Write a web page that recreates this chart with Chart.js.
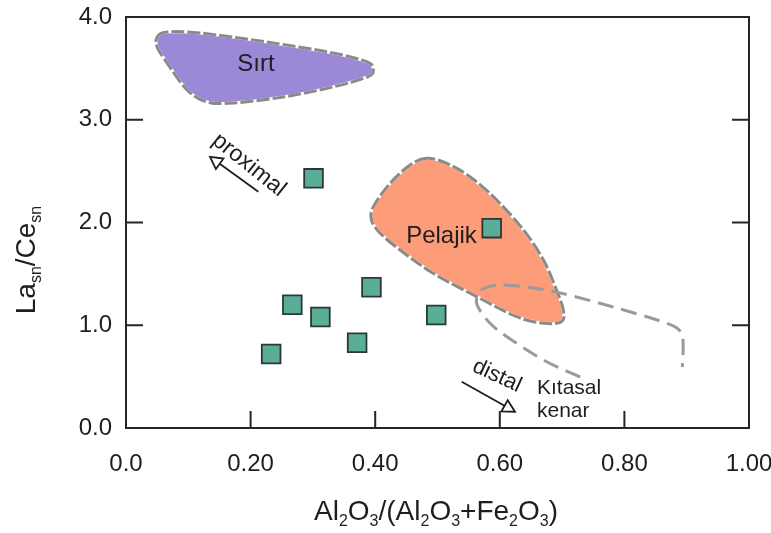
<!DOCTYPE html>
<html><head><meta charset="utf-8">
<script src="https://cdn.jsdelivr.net/npm/chart.js@4/dist/chart.umd.min.js"></script>
<style>html,body{margin:0;padding:0;background:#fff}#wrap{width:771px;height:533px}</style>
</head><body><div id="wrap"><canvas id="c" width="771" height="533"></canvas></div>
<script>
// ---- data ----
const sampleX = [0.233, 0.267, 0.312, 0.394, 0.371, 0.498, 0.301, 0.587];
const sampleY = [0.72, 1.20, 1.08, 1.37, 0.83, 1.10, 2.43, 1.945];

const xTickLabels = ['0.0', '0.20', '0.40', '0.60', '0.80', '1.00'];
const yTickLabels = ['0.0', '1.0', '2.0', '3.0', '4.0'];

// field outlines (data coordinates)
const sirtX = [0.050, 0.066, 0.119, 0.226, 0.332, 0.387, 0.397, 0.387, 0.332, 0.252, 0.172, 0.130, 0.098, 0.066, 0.050];
const sirtY = [3.805, 3.854, 3.844, 3.757, 3.650, 3.562, 3.484, 3.416, 3.319, 3.221, 3.163, 3.173, 3.290, 3.552, 3.708];

const pelajikX = [0.483, 0.456, 0.424, 0.397, 0.394, 0.408, 0.440, 0.493, 0.563, 0.627, 0.670, 0.699, 0.702, 0.691, 0.670, 0.638, 0.595, 0.552, 0.515];
const pelajikY = [2.625, 2.560, 2.382, 2.154, 2.024, 1.895, 1.733, 1.506, 1.278, 1.083, 1.019, 1.035, 1.148, 1.343, 1.635, 1.927, 2.219, 2.446, 2.576];

const kitasalX = [0.729, 0.673, 0.612, 0.584, 0.565, 0.563, 0.573, 0.600, 0.653, 0.697, 0.782, 0.862, 0.886, 0.894, 0.893];
const kitasalY = [0.496, 0.652, 0.886, 1.022, 1.178, 1.275, 1.353, 1.392, 1.363, 1.314, 1.178, 1.032, 0.964, 0.856, 0.594];

// labels & arrows (data coordinates)
const labelTexts = ['Sırt', 'Pelajik', 'proximal', 'distal', 'Kıtasal', 'kenar'];
const labelX = [0.2087, 0.5064, 0.1974, 0.5955, 0.6597, 0.6597];
const labelY = [3.543, 1.862, 2.560, 0.506, 0.389, 0.165];
const arrowFromX = [0.2124, 0.5389];
const arrowFromY = [2.300, 0.4506];
const arrowToX = [0.1348, 0.6244];
const arrowToY = [2.640, 0.1586];

const FONT = "'Liberation Sans', Arial, Helvetica, sans-serif";
const INK = '#1e1e1e';

function P(chart, x, y) {
  return [chart.scales.x.getPixelForValue(x), chart.scales.y.getPixelForValue(y)];
}
function smoothPath(ctx, pts, closed) {
  const n = pts.length;
  ctx.moveTo(pts[0][0], pts[0][1]);
  const segs = closed ? n : n - 1;
  const t = 1 / 6;
  for (let i = 0; i < segs; i++) {
    const p0 = pts[closed ? (i - 1 + n) % n : Math.max(i - 1, 0)];
    const p1 = pts[i];
    const p2 = pts[(i + 1) % n];
    const p3 = pts[closed ? (i + 2) % n : Math.min(i + 2, n - 1)];
    ctx.bezierCurveTo(p1[0] + (p2[0] - p0[0]) * t, p1[1] + (p2[1] - p0[1]) * t,
                      p2[0] - (p3[0] - p1[0]) * t, p2[1] - (p3[1] - p1[1]) * t,
                      p2[0], p2[1]);
  }
  if (closed) ctx.closePath();
}
function drawRegion(chart, xs, ys, fill) {
  const ctx = chart.ctx;
  const pts = xs.map((x, i) => P(chart, x, ys[i]));
  ctx.save();
  ctx.beginPath(); smoothPath(ctx, pts, true);
  ctx.fillStyle = fill; ctx.fill();
  ctx.lineWidth = 3; ctx.strokeStyle = '#ffffff'; ctx.setLineDash([]); ctx.stroke();
  ctx.strokeStyle = '#8a8a8a'; ctx.setLineDash([13, 3]); ctx.stroke();
  ctx.restore();
}
function drawArrow(ctx, a, b) {
  const ang = Math.atan2(b[1] - a[1], b[0] - a[0]);
  const L = 12, W = 6.5;
  const bx = b[0] - L * Math.cos(ang), by = b[1] - L * Math.sin(ang);
  ctx.save();
  ctx.strokeStyle = INK; ctx.lineWidth = 1.8;
  ctx.beginPath(); ctx.moveTo(a[0], a[1]); ctx.lineTo(bx, by); ctx.stroke();
  ctx.beginPath();
  ctx.moveTo(b[0], b[1]);
  ctx.lineTo(bx + W * Math.sin(ang), by - W * Math.cos(ang));
  ctx.lineTo(bx - W * Math.sin(ang), by + W * Math.cos(ang));
  ctx.closePath();
  ctx.fillStyle = '#fff'; ctx.fill(); ctx.stroke();
  ctx.restore();
}
function drawSubText(ctx, parts, x, y, main, sub, off) {
  let w = 0;
  parts.forEach(p => { ctx.font = (p[1] ? sub : main) + 'px ' + FONT; w += ctx.measureText(p[0]).width; });
  let cx = x - w / 2;
  ctx.textAlign = 'left'; ctx.textBaseline = 'alphabetic';
  parts.forEach(p => {
    ctx.font = (p[1] ? sub : main) + 'px ' + FONT;
    ctx.fillText(p[0], cx, y + (p[1] ? off : 0));
    cx += ctx.measureText(p[0]).width;
  });
}

const decor = {
  id: 'decor',
  beforeDatasetsDraw(chart) {
    const ctx = chart.ctx;
    drawRegion(chart, sirtX, sirtY, '#9b89d8');
    drawRegion(chart, pelajikX, pelajikY, '#fc9c79');
    // continental margin open curve
    const kp = kitasalX.map((x, i) => P(chart, x, kitasalY[i]));
    ctx.save();
    ctx.beginPath(); smoothPath(ctx, kp, false);
    ctx.lineWidth = 3; ctx.strokeStyle = '#9a9a9a'; ctx.setLineDash([16, 8]); ctx.stroke();
    ctx.restore();
    // arrows
    for (let i = 0; i < arrowFromX.length; i++) {
      drawArrow(ctx, P(chart, arrowFromX[i], arrowFromY[i]), P(chart, arrowToX[i], arrowToY[i]));
    }
    // labels
    const sizes = [24, 24, 23, 22, 21, 21];
    const rot = [0, 0, 38.7, 25, 0, 0];
    const align = ['center', 'center', 'center', 'center', 'left', 'left'];
    ctx.save();
    ctx.fillStyle = INK;
    labelTexts.forEach((t, i) => {
      const p = P(chart, labelX[i], labelY[i]);
      ctx.save();
      ctx.translate(p[0], p[1]);
      ctx.rotate(rot[i] * Math.PI / 180);
      ctx.font = sizes[i] + 'px ' + FONT;
      ctx.textAlign = align[i]; ctx.textBaseline = 'middle';
      ctx.fillText(t, 0, 0);
      ctx.restore();
    });
    ctx.restore();
  },
  afterDraw(chart) {
    const ctx = chart.ctx, a = chart.chartArea;
    const xs = chart.scales.x, ys = chart.scales.y;
    ctx.save();
    ctx.strokeStyle = '#262626'; ctx.lineWidth = 2; ctx.setLineDash([]);
    ctx.strokeRect(a.left, a.top, a.right - a.left, a.bottom - a.top);
    const TL = 17;
    ctx.beginPath();
    [1, 2, 3].forEach(v => {
      const y = ys.getPixelForValue(v);
      ctx.moveTo(a.left, y); ctx.lineTo(a.left + TL, y);
      ctx.moveTo(a.right, y); ctx.lineTo(a.right - TL, y);
    });
    [0.2, 0.4, 0.6, 0.8].forEach(v => {
      const x = xs.getPixelForValue(v);
      ctx.moveTo(x, a.bottom); ctx.lineTo(x, a.bottom - TL);
    });
    ctx.stroke();
    // axis titles
    ctx.fillStyle = INK;
    drawSubText(ctx, [['Al',0],['2',1],['O',0],['3',1],['/(Al',0],['2',1],['O',0],['3',1],['+Fe',0],['2',1],['O',0],['3',1],[')',0]],
      436, 520, 28, 16, 6);
    ctx.save();
    ctx.translate(35, 260);
    ctx.rotate(-Math.PI / 2);
    drawSubText(ctx, [['La',0],['sn',1],['/Ce',0],['sn',1]], 0, 0, 28, 16, 6);
    ctx.restore();
    ctx.restore();
  }
};

new Chart(document.getElementById('c'), {
  type: 'scatter',
  data: {
    datasets: [{
      data: sampleX.map((x, i) => ({ x: x, y: sampleY[i] })),
      pointStyle: 'rect',
      pointRadius: 13.2,
      pointHoverRadius: 13.2,
      backgroundColor: '#5aae98',
      borderColor: '#2c3835',
      borderWidth: 1.8
    }]
  },
  options: {
    responsive: false,
    animation: false,
    events: [],
    layout: { padding: { top: 17, right: 22, left: 0, bottom: 0 } },
    plugins: { legend: { display: false }, tooltip: { enabled: false } },
    scales: {
      x: {
        type: 'linear', min: 0, max: 1,
        grid: { display: false, drawTicks: false },
        border: { display: false },
        ticks: {
          stepSize: 0.2, padding: 22, color: INK, maxRotation: 0, autoSkip: false,
          font: { family: FONT, size: 24 },
          callback: (v, i) => xTickLabels[i]
        },
        afterFit: s => { s.height = 105; s.paddingLeft = 0; s.paddingRight = 0; }
      },
      y: {
        type: 'linear', min: 0, max: 4,
        grid: { display: false, drawTicks: false },
        border: { display: false },
        ticks: {
          stepSize: 1, padding: 14, color: INK,
          font: { family: FONT, size: 24 },
          callback: (v, i) => yTickLabels[i]
        },
        afterFit: s => { s.width = 126; s.paddingTop = 0; s.paddingBottom = 0; }
      }
    }
  },
  plugins: [decor]
});
</script>
</body></html>
